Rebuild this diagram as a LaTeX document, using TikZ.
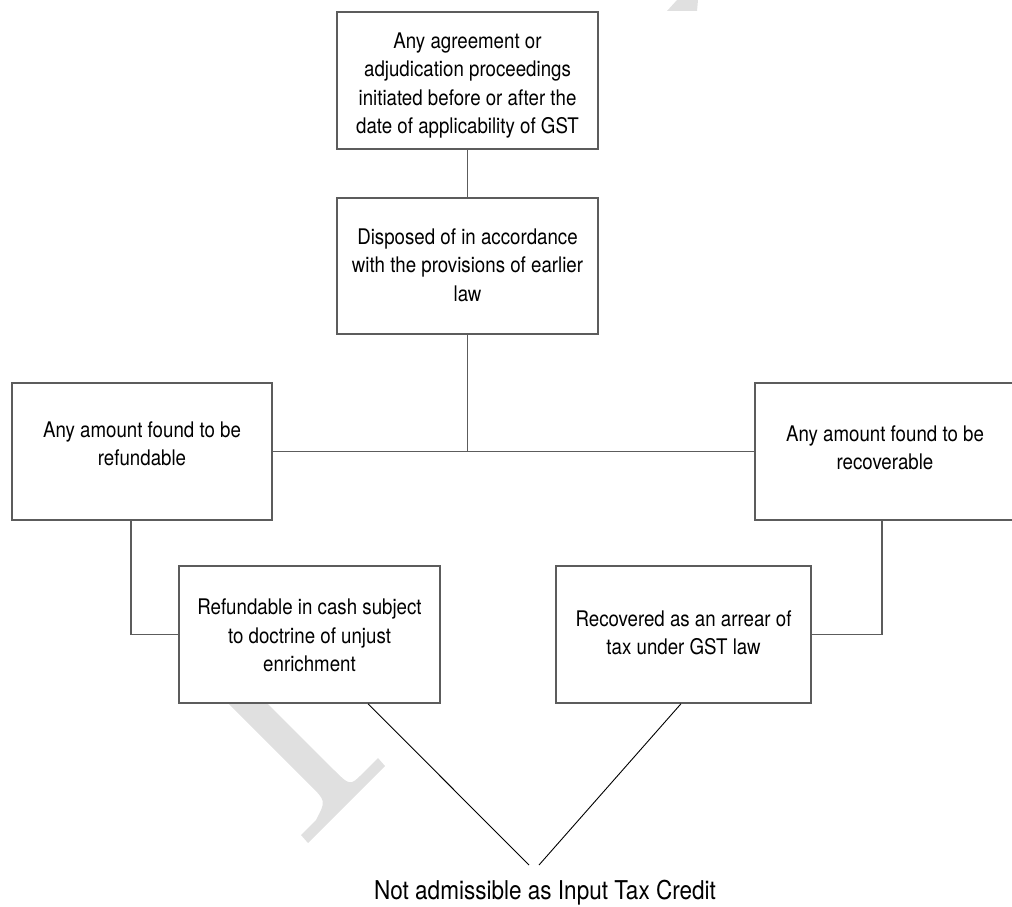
\documentclass[tikz,border=0pt]{standalone}
\usepackage{fontspec}
\setmainfont{TeX Gyre Heros}
% narrow, tall setting of the sans face used for all labels
\newfontfamily\narrowsans[FakeStretch=0.87]{TeX Gyre Heros}
\definecolor{boxgray}{HTML}{5C5C5C}
\definecolor{wmgray}{HTML}{E0E0E0}
\begin{document}
\begin{tikzpicture}[x=1pt,y=-1pt,
  box/.style={draw=boxgray, line width=1.5pt, fill=white, inner sep=0pt,
              minimum height=137pt},
  boxtext/.style={align=center, inner sep=0pt,
                  font=\narrowsans\fontsize{21.5}{28.3}\selectfont},
  link/.style={draw=boxgray, line width=1.5pt},
  diag/.style={draw=black, line width=0.9pt},
  wmark/.style={fill=wmgray, draw=none}]
\clip (0,0) rectangle (1012,907);

% faint background marks
\path[wmark] (215,690) -- (310,785) .. controls (326,801) .. (316,820)
  -- (301,835) -- (308,843) -- (385,766) -- (378,758) -- (362,774)
  .. controls (350,786) .. (332,768) -- (254,690) -- cycle;
\path[wmark] (667,11) -- (697,11) -- (698,0) -- (677,0) -- cycle;

% boxes
\node[box, minimum width=261pt] (gst)  at (467.5,80.5) {};
\node[box, minimum width=261pt, minimum height=136pt] (disp) at (467.5,266) {};
\node[box, minimum width=260pt] (refd) at (142,451.5) {};
\node[box, minimum width=260pt] (recv) at (885,451.5) {};
\node[box, minimum width=261pt] (cash) at (309.5,634.5) {};
\node[box, minimum width=255pt] (arr)  at (683.5,634.5) {};

% box texts
\node[boxtext] (gstT) at ([yshift=-5]gst.center)
  {Any agreement or\\adjudication proceedings\\initiated before or after the\\date of applicability of GST};
\node[boxtext] (dispT) at ([yshift=1]disp.center)
  {Disposed of in accordance\\with the provisions of earlier\\law};
\node[boxtext] (refdT) at ([yshift=8]refd.center)
  {Any amount found to be\\refundable};
\node[boxtext] (recvT) at ([yshift=4]recv.center)
  {Any amount found to be\\recoverable};
\node[boxtext] (cashT) at ([yshift=-1]cash.center)
  {Refundable in cash subject\\to doctrine of unjust\\enrichment};
\node[boxtext] (arrT) at ([yshift=2]arr.center)
  {Recovered as an arrear of\\tax under GST law};

% result
\node[inner sep=0pt, font=\narrowsans\fontsize{25.9}{30}\selectfont] (nac) at (545,893)
  {Not admissible as Input Tax Credit};
\coordinate (tipL) at (529,865);
\coordinate (tipR) at (539,865);

% connectors
\draw[link] (gst.south) -- (disp.north);
\draw[link] (disp.south) -- (disp.south |- refd.east);
\draw[link] (refd.east) -- (recv.west);
\draw[link] ([xshift=-11pt]refd.south) |- (cash.west);
\draw[link] ([xshift=-3pt]recv.south) |- (arr.east);
\draw[diag] ([xshift=58.5pt]cash.south) -- (tipL);
\draw[diag] ([xshift=-2.5pt]arr.south) -- (tipR);
\end{tikzpicture}
\end{document}
